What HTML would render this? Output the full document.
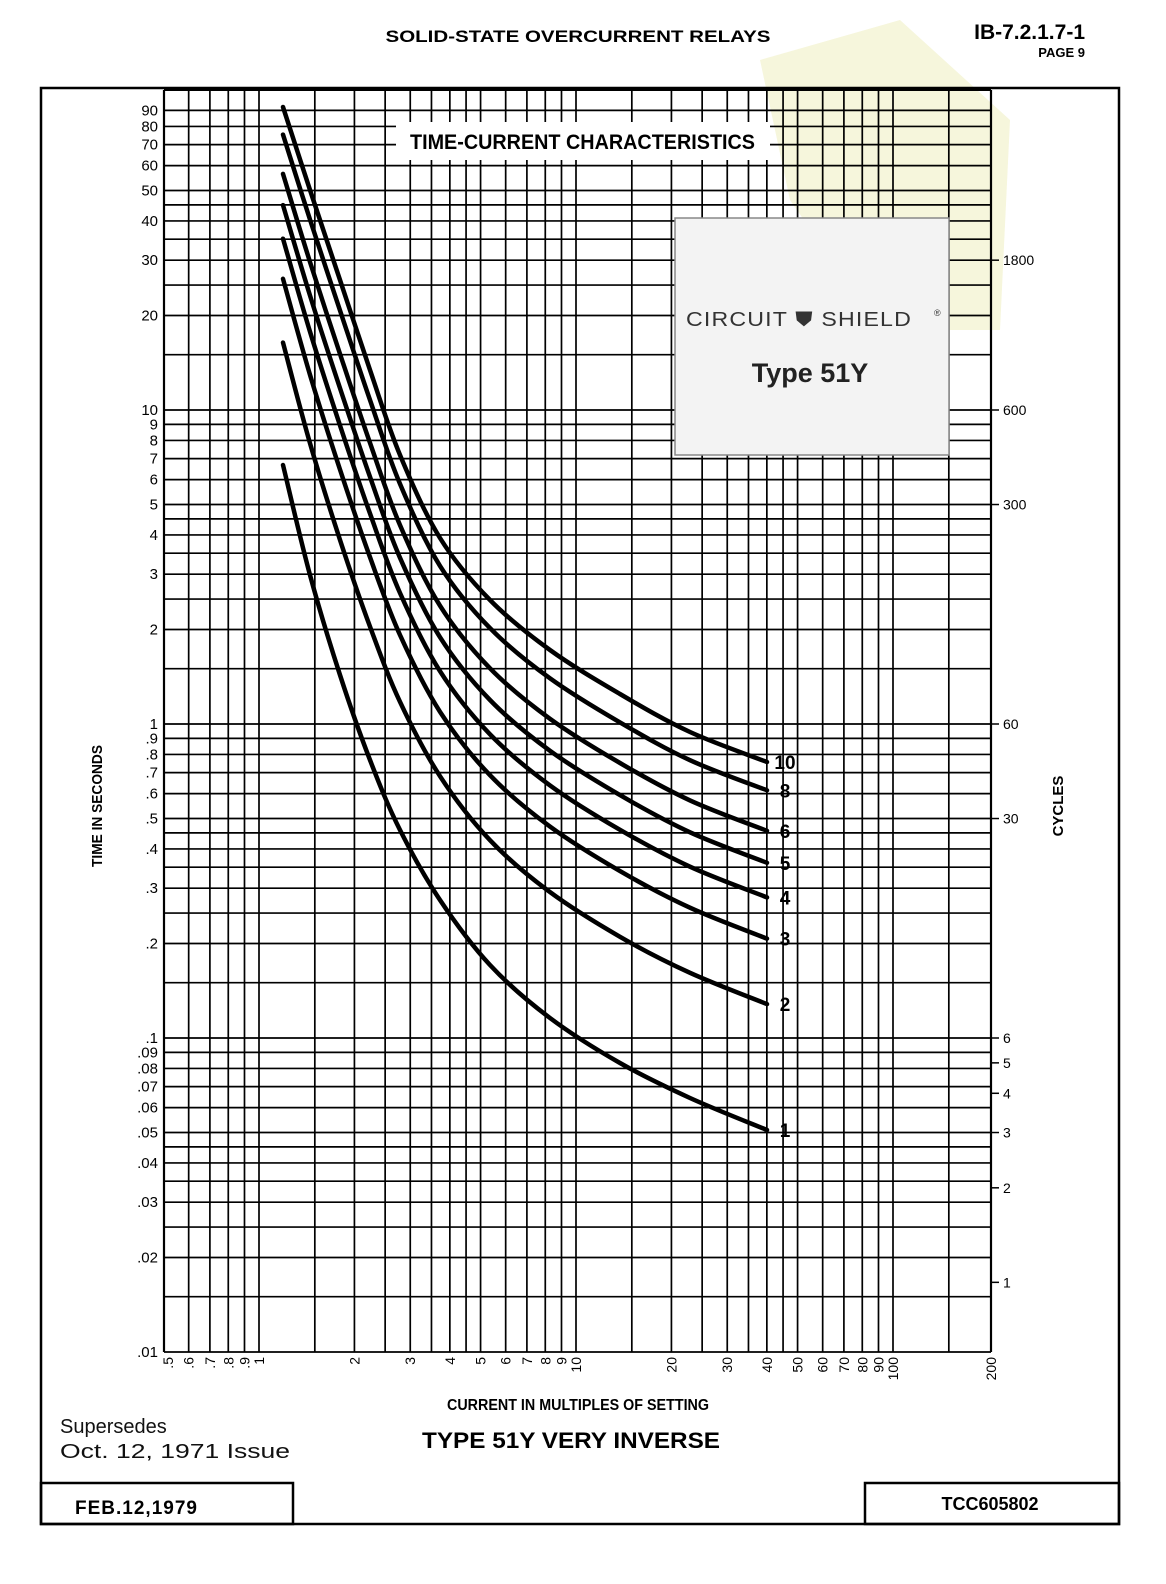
<!DOCTYPE html>
<html><head><meta charset="utf-8">
<style>
html,body{margin:0;padding:0;background:#fff;}
svg{display:block;}
text{font-family:"Liberation Sans",sans-serif;}
</style></head>
<body>
<svg id="s" width="1166" height="1584" viewBox="0 0 1166 1584" xmlns="http://www.w3.org/2000/svg">
<rect width="1166" height="1584" fill="#fff"/>
<polygon points="760,60 900,20 1010,120 1000,330 880,330 790,200" fill="#f6f6dc"/>
<g id="grid"></g>
<rect x="396" y="122" width="374" height="38" fill="#fff"/>
<text x="410" y="149" font-size="21" font-weight="bold" textLength="345" lengthAdjust="spacingAndGlyphs">TIME-CURRENT  CHARACTERISTICS</text>
<rect x="675" y="218" width="274" height="237" fill="#f3f3f3" stroke="#888" stroke-width="1.5"/>
<text x="686" y="326" font-size="20" fill="#333" textLength="226" lengthAdjust="spacingAndGlyphs" letter-spacing="1">CIRCUIT ⛊ SHIELD</text>
<text x="934" y="316" font-size="9" fill="#333">®</text>
<text x="810" y="382" font-size="27" font-weight="bold" text-anchor="middle" fill="#222">Type 51Y</text>
<g id="curves"></g>
<g id="labels" font-weight="bold"></g>
<rect x="41" y="88" width="1078" height="1436" fill="none" stroke="#000" stroke-width="2.5"/>
<text x="578" y="42" font-size="17" font-weight="bold" text-anchor="middle" textLength="385" lengthAdjust="spacingAndGlyphs">SOLID-STATE OVERCURRENT RELAYS</text>
<text x="1085" y="39" font-size="21" font-weight="bold" text-anchor="end">IB-7.2.1.7-1</text>
<text x="1085" y="57" font-size="13" font-weight="bold" text-anchor="end">PAGE 9</text>
<text transform="translate(102,806) rotate(-90)" font-size="15" font-weight="bold" text-anchor="middle" textLength="122" lengthAdjust="spacingAndGlyphs">TIME IN SECONDS</text>
<text transform="translate(1063,806) rotate(-90)" font-size="15" font-weight="bold" text-anchor="middle">CYCLES</text>
<text x="578" y="1410" font-size="16" font-weight="bold" text-anchor="middle" textLength="262" lengthAdjust="spacingAndGlyphs">CURRENT IN MULTIPLES OF SETTING</text>
<text x="571" y="1448" font-size="22" font-weight="bold" text-anchor="middle" textLength="298" lengthAdjust="spacingAndGlyphs">TYPE 51Y VERY INVERSE</text>
<text x="60" y="1433" font-family="Liberation Mono, monospace" font-size="20" fill="#111">Supersedes</text>
<text x="60" y="1458" font-family="Liberation Mono, monospace" font-size="20" fill="#111" textLength="230" lengthAdjust="spacingAndGlyphs">Oct. 12, 1971 Issue</text>
<rect x="41" y="1483" width="252" height="41" fill="none" stroke="#000" stroke-width="2.5"/>
<text x="75" y="1514" font-size="19" font-weight="bold" letter-spacing="1">FEB.12,1979</text>
<rect x="865" y="1483" width="254" height="41" fill="none" stroke="#000" stroke-width="2.5"/>
<text x="990" y="1510" font-size="18" font-weight="bold" text-anchor="middle">TCC605802</text>
</svg>
<script>
(function(){
var NS="http://www.w3.org/2000/svg";
function el(p,n,a,t){var e=document.createElementNS(NS,n);for(var k in a)e.setAttribute(k,a[k]);if(t!==undefined)e.textContent=t;p.appendChild(e);return e;}
var X=function(v){return 259+317*Math.log10(v);};
var Y=function(t){return 724-314*Math.log10(t);};
var g=document.getElementById('grid');
var L=164,R=991,T=90,B=1352;
var vx=[.5,.6,.7,.8,.9,1,1.5,2,2.5,3,3.5,4,4.5,5,6,7,8,9,10,15,20,25,30,35,40,45,50,60,70,80,90,100,150,200];
vx.forEach(function(v){var x=X(v);if(v==.5)x=L;if(v==200)x=R;el(g,'line',{x1:x,y1:T,x2:x,y2:B,stroke:'#000','stroke-width':(v==.5||v==200)?2.2:1.7});});
var mult=[1,1.5,2,2.5,3,3.5,4,4.5,5,6,7,8,9];
[0.01,0.1,1,10].forEach(function(d){mult.forEach(function(m){var y=Y(m*d);if(m*d==0.01)y=B;el(g,'line',{x1:L,y1:y,x2:R,y2:y,stroke:'#000','stroke-width':1.7});});});
el(g,'line',{x1:L,y1:T,x2:R,y2:T,stroke:'#000','stroke-width':2});
var lab=document.getElementById('labels');
var yl=[[90,'90'],[80,'80'],[70,'70'],[60,'60'],[50,'50'],[40,'40'],[30,'30'],[20,'20'],[10,'10'],[9,'9'],[8,'8'],[7,'7'],[6,'6'],[5,'5'],[4,'4'],[3,'3'],[2,'2'],[1,'1'],[.9,'.9'],[.8,'.8'],[.7,'.7'],[.6,'.6'],[.5,'.5'],[.4,'.4'],[.3,'.3'],[.2,'.2'],[.1,'.1'],[.09,'.09'],[.08,'.08'],[.07,'.07'],[.06,'.06'],[.05,'.05'],[.04,'.04'],[.03,'.03'],[.02,'.02'],[.01,'.01']];
yl.forEach(function(p){var y=Y(p[0]);if(p[0]==.01)y=B;el(lab,'text',{x:158,y:y+5,'font-size':15,'text-anchor':'end','font-weight':'normal'},p[1]);});
var xl=[[.5,'.5'],[.6,'.6'],[.7,'.7'],[.8,'.8'],[.9,'.9'],[1,'1'],[2,'2'],[3,'3'],[4,'4'],[5,'5'],[6,'6'],[7,'7'],[8,'8'],[9,'9'],[10,'10'],[20,'20'],[30,'30'],[40,'40'],[50,'50'],[60,'60'],[70,'70'],[80,'80'],[90,'90'],[100,'100'],[200,'200']];
xl.forEach(function(p){var x=X(p[0]);if(p[0]==.5)x=L+4;if(p[0]==200)x=R;el(lab,'text',{transform:'translate('+(x+5)+',1357) rotate(-90)','font-size':14,'text-anchor':'end','font-weight':'normal'},p[1]);});
[1800,600,300,60,30,6,5,4,3,2,1].forEach(function(c){var y=Y(c/60);el(lab,'line',{x1:R,y1:y,x2:R+8,y2:y,stroke:'#000','stroke-width':1.5});el(lab,'text',{x:R+12,y:y+5,'font-size':14,'font-weight':'normal'},String(c));});
var xs=[283,310,340,370,400,440,490,550,620,690,767];
var c10=[107,190,280,370,455,538,600,650,694,732,762];
var c1=[465,575,675,760,830,900,965,1018,1063,1098,1130];
var F={'10':0,'8':0.077,'6':0.187,'5':0.274,'4':0.368,'3':0.48,'2':0.658,'1':1};
var cg=document.getElementById('curves');
function path(p){var d='M'+p[0][0]+','+p[0][1];for(var i=0;i<p.length-1;i++){var p0=p[i-1]||p[i],p1=p[i],p2=p[i+1],p3=p[i+2]||p2;var c1x=p1[0]+(p2[0]-p0[0])/6,c1y=p1[1]+(p2[1]-p0[1])/6,c2x=p2[0]-(p3[0]-p1[0])/6,c2y=p2[1]-(p3[1]-p1[1])/6;d+=' C'+c1x.toFixed(1)+','+c1y.toFixed(1)+' '+c2x.toFixed(1)+','+c2y.toFixed(1)+' '+p2[0]+','+p2[1];}return d;}
for(var k in F){var f=F[k];var p=xs.map(function(x,i){return [x,+(c10[i]+f*(c1[i]-c10[i])).toFixed(1)];});
el(cg,'path',{d:path(p),fill:'none',stroke:'#000','stroke-width':4.5,'stroke-linecap':'round'});var e=p[p.length-1];el(cg,'text',{x:785,y:e[1]+7,'font-size':19,'font-weight':'bold','text-anchor':'middle'},k);}
})();
</script>
</body></html>
